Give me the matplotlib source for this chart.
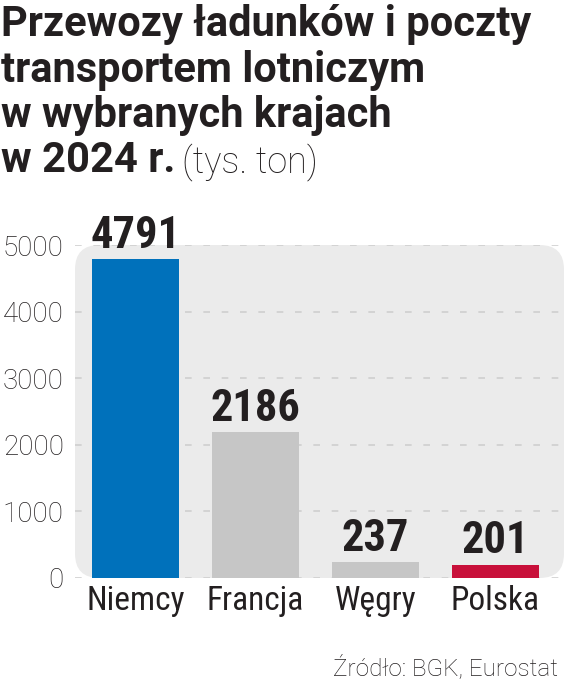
import matplotlib
matplotlib.use("Agg")
import matplotlib.pyplot as plt
from matplotlib.patches import FancyBboxPatch

# dane z wykresu (tys. ton)
countries = ["Niemcy", "Francja", "Węgry", "Polska"]
values = [4791, 2186, 237, 201]
bar_colors = ["#0071bb", "#c6c6c6", "#c6c6c6", "#c8103a"]
yticks = [0, 1000, 2000, 3000, 4000, 5000]

title_lines = ["Przewozy ładunków i poczty", "transportem lotniczym", "w wybranych krajach"]
title_last_bold = "w 2024 r."
title_last_light = "(tys. ton)"
source = "Źródło: BGK, Eurostat"

COND = ["Roboto Condensed", "Roboto", "DejaVu Sans"]
PLAIN = ["Roboto", "DejaVu Sans"]
TEXT = "#231f20"

fig = plt.figure(figsize=(5.64, 6.94), dpi=100)
ax = fig.add_axes([75 / 564, 116 / 694, 489 / 564, 333 / 694])

ax.set_xlim(-0.504, 3.571)
ax.set_ylim(0, 5000)

# szare tło z zaokrąglonymi rogami
bg = FancyBboxPatch((0.0, 0.0), 1.0, 1.0, boxstyle="round,pad=0,rounding_size=0.05",
                    transform=ax.transAxes, facecolor="#ebebeb", edgecolor="none",
                    zorder=0, mutation_aspect=489 / 333)
ax.add_patch(bg)

for y in yticks:
    ax.axhline(y, color="#cfcfcf", lw=1.2, ls=(0, (4, 7)), zorder=1)

bars = ax.bar(range(len(countries)), values, width=0.725, color=bar_colors, zorder=2)

for i, v in enumerate(values):
    ax.text(i, v + 170, str(v), ha="center", va="baseline", fontsize=32,
            fontweight="bold", family=COND, color=TEXT, clip_on=False)

ax.set_yticks(yticks)
ax.set_yticklabels([str(t) for t in yticks], fontsize=20, family=PLAIN,
                   color=TEXT, fontweight="light")
ax.set_xticks(range(len(countries)))
ax.set_xticklabels(countries, fontsize=24, family=COND, color=TEXT)
ax.tick_params(axis="both", length=0)
ax.tick_params(axis="y", pad=8)
ax.tick_params(axis="x", pad=5)
for s in ax.spines.values():
    s.set_visible(False)
ax.patch.set_visible(False)

# tytuł
ys = [1 - 36 / 694, 1 - 82 / 694, 1 - 127 / 694]
for line, y in zip(title_lines, ys):
    fig.text(0.002, y, line, fontsize=30, fontweight="bold", family=PLAIN,
             color=TEXT, va="baseline")
y_last = 1 - 172 / 694
t = fig.text(0.002, y_last, title_last_bold, fontsize=30, fontweight="bold",
             family=PLAIN, color=TEXT, va="baseline")
fig.canvas.draw()
bb = t.get_window_extent()
fig.text(bb.x1 / fig.bbox.width + 0.012, y_last, title_last_light, fontsize=26,
         family=PLAIN, color=TEXT, va="baseline", fontweight="light")

fig.text(0.99, 1 - 675 / 694, source, ha="right", va="baseline", fontsize=17.5,
         family=PLAIN, color=TEXT, fontweight="light")

fig.savefig("out.png", dpi=100, facecolor="white")
